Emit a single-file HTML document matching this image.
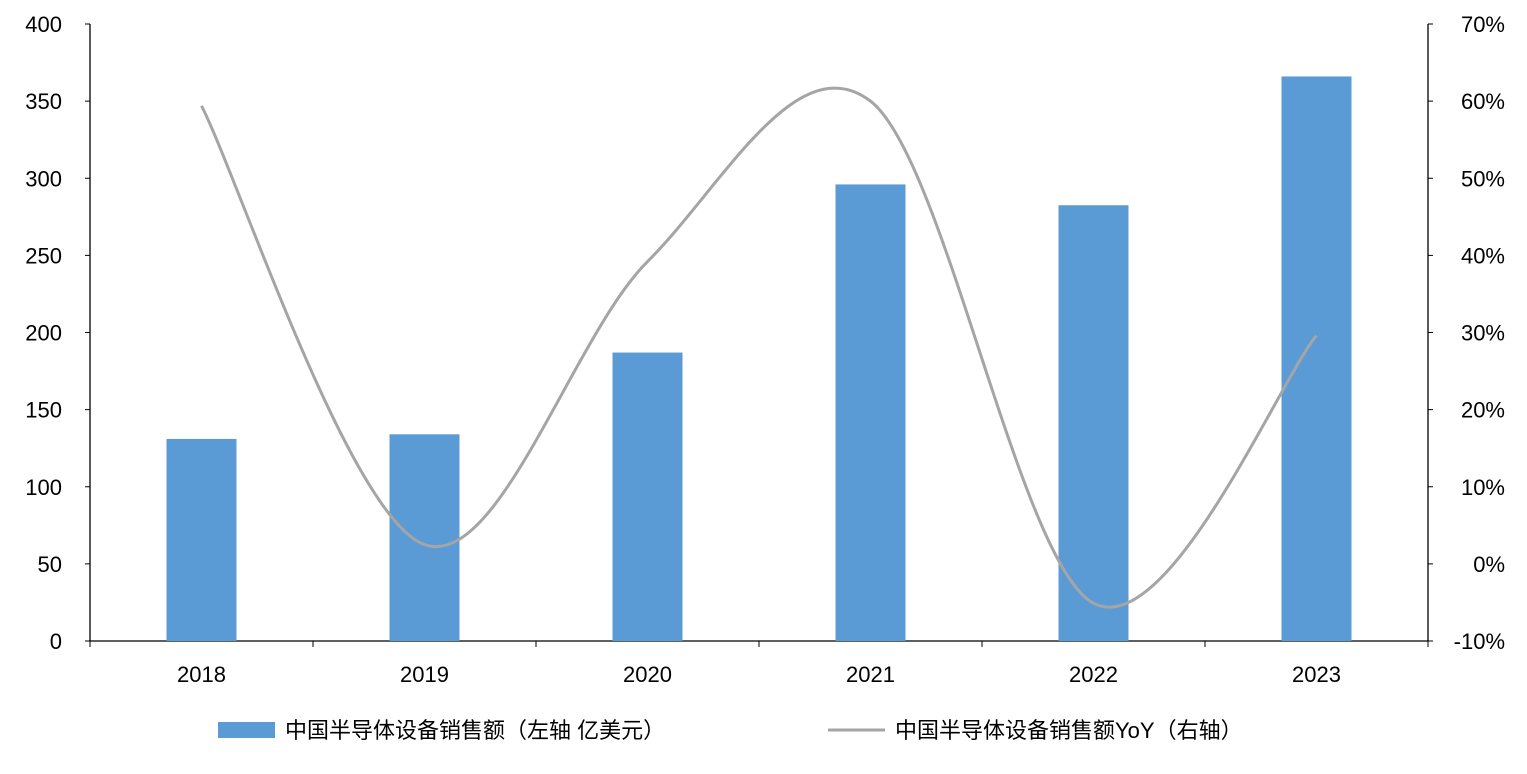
<!DOCTYPE html>
<html><head><meta charset="utf-8"><style>
body{margin:0;background:#fff;}
svg text{font-family:"Liberation Sans","Noto Sans CJK SC",sans-serif;fill:#000;}
</style></head><body>
<svg id="chart" width="1527" height="769" xmlns="http://www.w3.org/2000/svg">
<g id="axes"></g><g id="bars"></g><g id="line"></g>
<g>
<rect x="218" y="722" width="57" height="16" fill="#5B9BD5"/>
<text x="285" y="738" font-size="22">中国半导体设备销售额（左轴 亿美元）</text>
<line x1="828" y1="730" x2="885" y2="730" stroke="#A5A5A5" stroke-width="3"/>
<text x="895" y="738" font-size="22">中国半导体设备销售额YoY（右轴）</text>
</g>
</svg>
<script>
const categories=["2018","2019","2020","2021","2022","2023"];
const sales=[131,134,187,296,282.5,366];
const yoy=[59.4,2.5,39.2,60,-5.1,29.6];
const leftTicks=[0,50,100,150,200,250,300,350,400];
const rightTicks=[-10,0,10,20,30,40,50,60,70];
const NS="http://www.w3.org/2000/svg";
const X0=90,X1=1428,Y0=641,Y1=24;
const band=(X1-X0)/categories.length;
const xc=i=>X0+band*(i+0.5);
const yl=v=>Y0-(v/400)*(Y0-Y1);
const yr=v=>Y0-((v+10)/80)*(Y0-Y1);
function mk(tag,attrs,parent){const e=document.createElementNS(NS,tag);for(const k in attrs)e.setAttribute(k,attrs[k]);parent.appendChild(e);return e;}
const ax=document.getElementById('axes');
let l=mk('line',{x1:X0,y1:Y1,x2:X0,y2:Y0,stroke:'#000','stroke-width':1.3},ax);


l=mk('line',{x1:X1,y1:Y1,x2:X1,y2:Y0,stroke:'#000','stroke-width':1.3},ax);


l=mk('line',{x1:X0,y1:Y0,x2:X1,y2:Y0,stroke:'#000','stroke-width':1.3},ax);


leftTicks.forEach(v=>{const y=yl(v);
 mk('line',{x1:X0-5,y1:y,x2:X0,y2:y,stroke:'#000'},ax);
 const t=mk('text',{x:X0-28,y:y+8,'font-size':22,'text-anchor':'end'},ax);t.textContent=v;
 
 });
rightTicks.forEach(v=>{const y=yr(v);
 mk('line',{x1:X1,y1:y,x2:X1+5,y2:y,stroke:'#000'},ax);
 const t=mk('text',{x:1505,y:y+8,'font-size':22,'text-anchor':'end'},ax);t.textContent=v+'%';
 
 });
for(let i=0;i<=categories.length;i++){const x=X0+band*i;mk('line',{x1:x,y1:Y0,x2:x,y2:Y0+6,stroke:'#000'},ax);}
const bg=document.getElementById('bars');
categories.forEach((c,i)=>{
 const r=mk('rect',{x:xc(i)-35,y:yl(sales[i]),width:70,height:Y0-yl(sales[i]),fill:'#5B9BD5'},bg);
 
 
 const t=mk('text',{x:xc(i),y:682,'font-size':22,'text-anchor':'middle'},ax);t.textContent=c;
 
 
});
const pts=yoy.map((v,i)=>[xc(i),yr(v)]);
let d='M'+pts[0][0]+','+pts[0][1];
for(let i=0;i<pts.length-1;i++){
 const p0=pts[Math.max(0,i-1)],p1=pts[i],p2=pts[i+1],p3=pts[Math.min(pts.length-1,i+2)];
 const c1=[p1[0]+(p2[0]-p0[0])/6,p1[1]+(p2[1]-p0[1])/6];
 const c2=[p2[0]-(p3[0]-p1[0])/6,p2[1]-(p3[1]-p1[1])/6];
 d+=` C${c1[0]},${c1[1]} ${c2[0]},${c2[1]} ${p2[0]},${p2[1]}`;
}
const p=mk('path',{d:d,fill:'none',stroke:'#A5A5A5','stroke-width':3},document.getElementById('line'));


</script>
</body></html>
